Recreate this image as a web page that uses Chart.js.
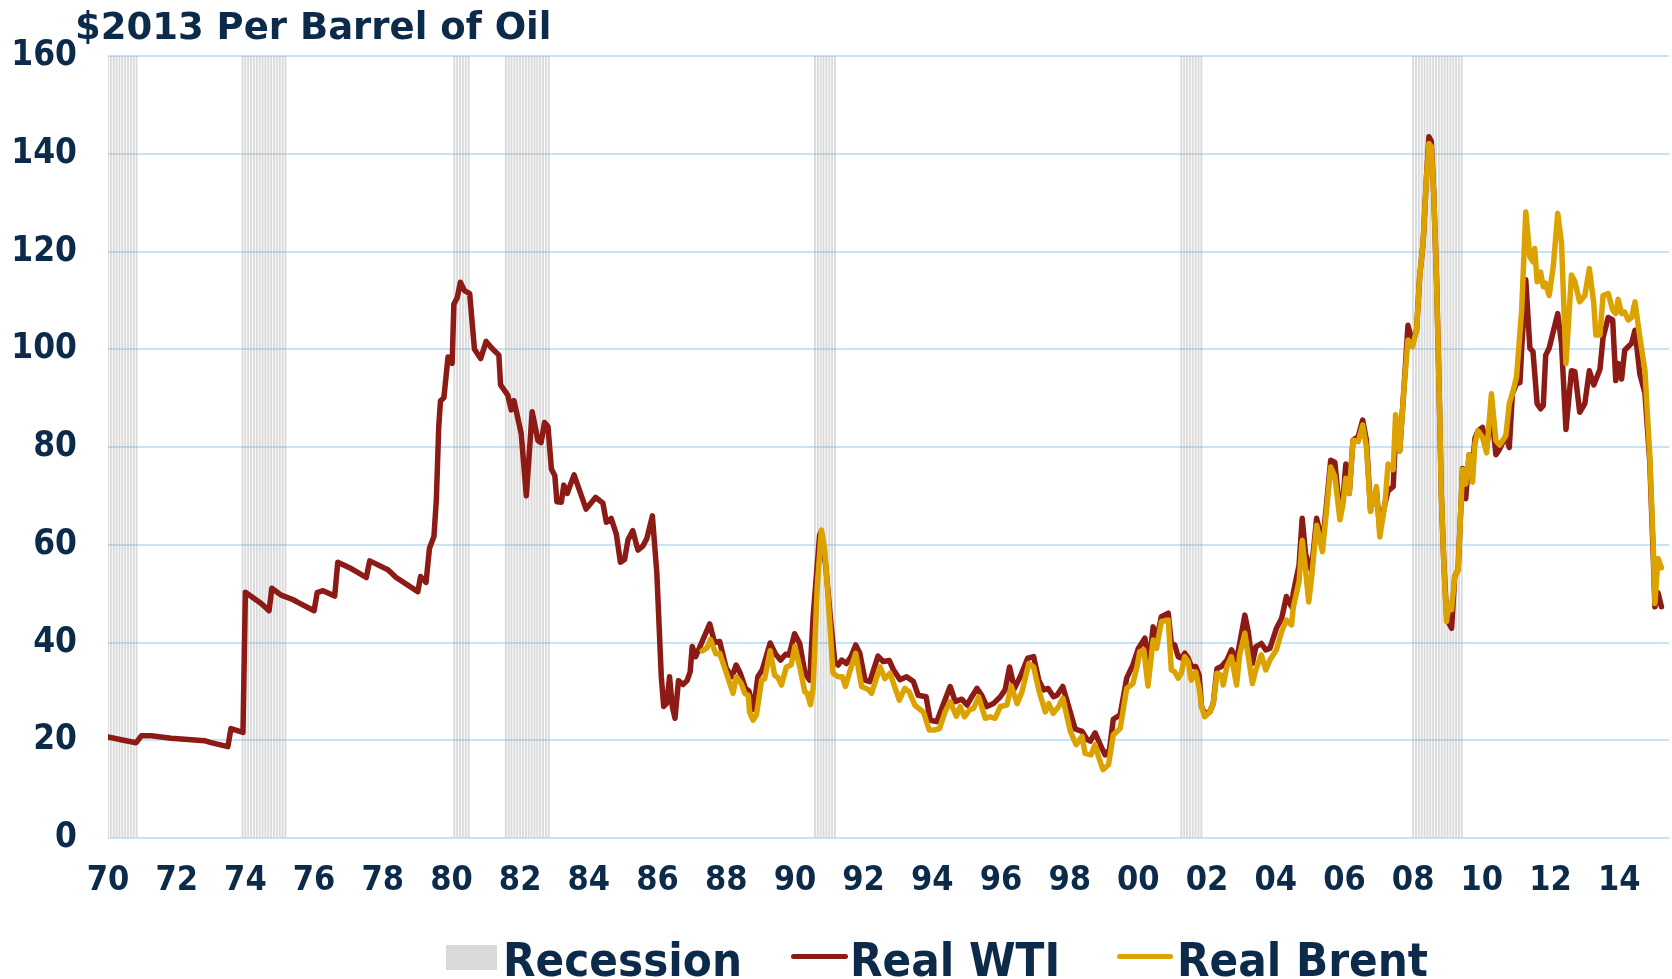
<!DOCTYPE html>
<html>
<head>
<meta charset="utf-8">
<script src="https://cdn.jsdelivr.net/npm/chart.js@4.4.1/dist/chart.umd.min.js"></script>
<style>
  html, body { margin: 0; padding: 0; background: #fff; }
  #wrap { position: relative; width: 1672px; height: 979px; overflow: hidden; }
  #title { position: absolute; left: 75px; top: 5px; line-height: 40px; white-space: nowrap;
           font: bold 37px "DejaVu Sans", sans-serif; color: #0c2a4a; }
  .legText { position: absolute; top: 932px; line-height: 50px; white-space: nowrap;
             font: bold 47px "DejaVu Sans Condensed", "DejaVu Sans", sans-serif; color: #0c2a4a; }
  .legLine { position: absolute; top: 954px; height: 5px; border-radius: 3px; }
  #legBox { position: absolute; left: 446px; top: 945px; width: 51px; height: 25px; background: #d9d9d9; }
</style>
</head>
<body>
<div id="wrap">
  <canvas id="oilChart" width="1672" height="979"></canvas>
  <div id="title">$2013 Per Barrel of Oil</div>
  <div id="legBox"></div>
  <div class="legText" style="left:503px">Recession</div>
  <div class="legLine" style="left:791px; width:57px; background:#8c1a15"></div>
  <div class="legText" style="left:850px">Real WTI</div>
  <div class="legLine" style="left:1117px; width:56px; background:#dca200"></div>
  <div class="legText" style="left:1177px">Real Brent</div>
</div>
<script>
// axis ticks
const yTicks = [0, 20, 40, 60, 80, 100, 120, 140, 160];
const xTickYears = [1970, 1972, 1974, 1976, 1978, 1980, 1982, 1984, 1986, 1988, 1990, 1992,
                    1994, 1996, 1998, 2000, 2002, 2004, 2006, 2008, 2010, 2012, 2014];
const xTickLabels = ['70', '72', '74', '76', '78', '80', '82', '84', '86', '88', '90', '92',
                     '94', '96', '98', '00', '02', '04', '06', '08', '10', '12', '14'];

// recession periods (first and last month)
const recessions = [['1970-01', '1970-11'], ['1973-12', '1975-03'], ['1980-02', '1980-07'],
                    ['1981-08', '1982-11'], ['1990-08', '1991-03'], ['2001-04', '2001-11'],
                    ['2008-01', '2009-06']];

// real WTI, $2013 per barrel (x = decimal year)
const wtiYears = [
  1970.00, 1970.38, 1970.82, 1970.97, 1971.26, 1971.84, 1972.81, 1973.00, 1973.49, 1973.58, 1973.93,
  1974.00, 1974.46, 1974.69, 1974.77, 1975.04, 1975.38, 1975.53, 1976.00, 1976.09, 1976.26, 1976.60,
  1976.69, 1977.03, 1977.28, 1977.52, 1977.62, 1978.15, 1978.39, 1979.02, 1979.10, 1979.26, 1979.36,
  1979.49, 1979.56, 1979.63, 1979.68, 1979.78, 1979.90, 1980.02, 1980.07, 1980.17, 1980.26, 1980.38,
  1980.53, 1980.67, 1980.85, 1981.01, 1981.19, 1981.38, 1981.43, 1981.64, 1981.74, 1981.82, 1982.03,
  1982.18, 1982.35, 1982.52, 1982.61, 1982.71, 1982.81, 1982.91, 1983.01, 1983.07, 1983.20, 1983.27,
  1983.37, 1983.57, 1983.92, 1984.20, 1984.41, 1984.51, 1984.65, 1984.80, 1984.92, 1985.04, 1985.14,
  1985.28, 1985.43, 1985.57, 1985.69, 1985.85, 1985.98, 1986.11, 1986.18, 1986.27, 1986.35, 1986.43,
  1986.51, 1986.61, 1986.74, 1986.86, 1986.95, 1987.01, 1987.11, 1987.27, 1987.52, 1987.66, 1987.81,
  1988.00, 1988.17, 1988.29, 1988.41, 1988.56, 1988.66, 1988.80, 1988.92, 1989.05, 1989.28, 1989.43,
  1989.58, 1989.73, 1989.83, 1989.99, 1990.14, 1990.29, 1990.43, 1990.53, 1990.72, 1990.77, 1990.90,
  1991.02, 1991.16, 1991.26, 1991.36, 1991.50, 1991.63, 1991.77, 1991.89, 1992.04, 1992.18, 1992.42,
  1992.57, 1992.75, 1992.87, 1993.06, 1993.25, 1993.45, 1993.59, 1993.82, 1993.94, 1994.13, 1994.33,
  1994.52, 1994.67, 1994.86, 1995.01, 1995.15, 1995.30, 1995.44, 1995.59, 1995.78, 1995.98, 1996.12,
  1996.25, 1996.39, 1996.56, 1996.78, 1996.95, 1997.10, 1997.24, 1997.37, 1997.53, 1997.63, 1997.80,
  1997.97, 1998.16, 1998.36, 1998.50, 1998.60, 1998.74, 1998.89, 1999.03, 1999.16, 1999.27, 1999.47,
  1999.66, 1999.84, 2000.00, 2000.19, 2000.31, 2000.43, 2000.53, 2000.67, 2000.87, 2000.96, 2001.06,
  2001.16, 2001.25, 2001.35, 2001.45, 2001.54, 2001.67, 2001.77, 2001.84, 2001.93, 2002.08, 2002.18,
  2002.29, 2002.42, 2002.58, 2002.71, 2002.86, 2002.95, 2003.10, 2003.20, 2003.32, 2003.42, 2003.58,
  2003.71, 2003.83, 2004.02, 2004.17, 2004.31, 2004.46, 2004.51, 2004.68, 2004.77, 2004.87, 2004.96,
  2005.04, 2005.19, 2005.36, 2005.48, 2005.60, 2005.72, 2005.87, 2005.96, 2006.04, 2006.14, 2006.25,
  2006.40, 2006.53, 2006.64, 2006.76, 2006.93, 2007.03, 2007.18, 2007.27, 2007.42, 2007.50, 2007.61,
  2007.73, 2007.85, 2007.98, 2008.10, 2008.19, 2008.29, 2008.39, 2008.46, 2008.53, 2008.60, 2008.68,
  2008.76, 2008.82, 2008.89, 2008.97, 2009.04, 2009.12, 2009.21, 2009.31, 2009.44, 2009.53, 2009.63,
  2009.73, 2009.80, 2009.89, 2010.02, 2010.14, 2010.28, 2010.41, 2010.52, 2010.70, 2010.80, 2010.89,
  2011.01, 2011.11, 2011.16, 2011.28, 2011.40, 2011.49, 2011.61, 2011.71, 2011.79, 2011.86, 2011.96,
  2012.08, 2012.21, 2012.32, 2012.45, 2012.61, 2012.71, 2012.85, 2013.00, 2013.13, 2013.26, 2013.44,
  2013.53, 2013.68, 2013.81, 2013.90, 2013.97, 2014.07, 2014.16, 2014.26, 2014.36, 2014.46, 2014.60,
  2014.75, 2014.89, 2014.99, 2015.04, 2015.13, 2015.23
];
const wtiValues = [
  20.7, 20.1, 19.5, 20.9, 20.9, 20.4, 19.9, 19.5, 18.7, 22.4, 21.6,
  50.3, 48.0, 46.5, 51.1, 49.7, 48.8, 48.2, 46.5, 50.2, 50.6, 49.5,
  56.4, 55.3, 54.3, 53.3, 56.7, 54.9, 53.3, 50.4, 53.5, 52.3, 59.3,
  61.7, 69.2, 84.2, 89.4, 90.1, 98.4, 97.1, 109.2, 110.6, 113.7, 112.0,
  111.4, 100.0, 98.1, 101.6, 100.1, 98.8, 92.7, 90.6, 87.6, 89.5, 82.8,
  70.0, 87.2, 81.3, 80.9, 85.0, 84.2, 75.5, 74.1, 68.8, 68.7, 72.2,
  70.5, 74.3, 67.3, 69.7, 68.5, 64.6, 65.4, 62.2, 56.4, 57.0, 61.0,
  62.9, 58.9, 59.7, 61.3, 65.9, 54.2, 33.0, 26.9, 27.6, 33.0, 26.9,
  24.5, 32.2, 31.4, 32.2, 34.0, 39.2, 37.1, 39.7, 43.8, 40.0, 40.2,
  34.7, 33.0, 35.4, 33.7, 30.6, 30.1, 26.3, 33.0, 34.4, 39.9, 37.7,
  36.4, 37.6, 37.4, 41.8, 39.8, 33.7, 32.3, 45.3, 62.0, 62.7, 55.5,
  46.0, 36.1, 35.4, 36.4, 35.7, 37.1, 39.5, 37.8, 32.3, 32.0, 37.2,
  36.1, 36.3, 34.4, 32.4, 33.0, 32.0, 29.2, 28.9, 24.1, 23.8, 27.5,
  31.0, 27.9, 28.4, 27.2, 28.9, 30.6, 29.2, 26.9, 27.5, 28.9, 30.3,
  35.0, 30.6, 33.0, 36.8, 37.1, 32.3, 30.3, 30.6, 28.9, 29.2, 31.0,
  26.9, 22.3, 21.8, 20.2, 19.8, 21.5, 19.1, 17.0, 18.1, 24.3, 25.2,
  32.7, 35.4, 38.8, 40.9, 35.5, 43.2, 40.5, 45.3, 46.0, 39.8, 39.5,
  37.1, 36.8, 37.8, 36.8, 35.1, 35.1, 33.3, 26.9, 25.5, 25.8, 27.5,
  34.7, 35.1, 36.4, 38.5, 36.4, 39.8, 45.6, 42.2, 35.7, 39.1, 39.8,
  38.5, 38.8, 42.9, 44.9, 49.4, 47.3, 50.1, 55.9, 65.4, 58.0, 56.2,
  54.8, 65.4, 60.3, 68.4, 77.3, 76.9, 66.4, 69.5, 76.5, 70.5, 81.4,
  82.1, 85.5, 81.4, 67.1, 71.2, 63.0, 68.4, 71.0, 71.9, 84.0, 79.2,
  91.7, 104.9, 101.2, 103.9, 114.8, 121.7, 135.3, 143.5, 142.5, 131.9, 114.8,
  90.9, 70.5, 56.9, 46.0, 44.0, 42.9, 53.5, 54.9, 75.6, 69.4, 78.4,
  76.0, 81.8, 83.3, 84.0, 79.9, 87.3, 78.4, 79.6, 82.3, 79.9, 90.9,
  92.9, 93.2, 100.0, 114.2, 100.2, 99.5, 88.9, 87.8, 88.5, 98.8, 100.2,
  103.6, 107.3, 101.2, 83.6, 95.6, 95.4, 87.1, 88.9, 95.6, 92.7, 95.9,
  102.4, 106.5, 106.0, 93.6, 97.1, 93.9, 99.8, 100.5, 101.2, 103.9, 95.0,
  91.0, 77.0, 58.0, 47.3, 50.2, 47.3
];

// real Brent, $2013 per barrel
const brentYears = [
  1987.30, 1987.44, 1987.54, 1987.70, 1987.81, 1987.96, 1988.20, 1988.29, 1988.44, 1988.54, 1988.64,
  1988.68, 1988.78, 1988.88, 1989.03, 1989.12, 1989.28, 1989.41, 1989.51, 1989.61, 1989.75, 1989.89,
  1990.00, 1990.14, 1990.29, 1990.36, 1990.45, 1990.53, 1990.65, 1990.77, 1990.87, 1990.99, 1991.11,
  1991.26, 1991.38, 1991.47, 1991.60, 1991.77, 1991.94, 1992.14, 1992.23, 1992.48, 1992.62, 1992.77,
  1993.04, 1993.20, 1993.33, 1993.49, 1993.64, 1993.74, 1993.91, 1994.08, 1994.21, 1994.37, 1994.52,
  1994.70, 1994.81, 1994.94, 1995.09, 1995.20, 1995.35, 1995.54, 1995.69, 1995.83, 1995.98, 1996.17,
  1996.30, 1996.47, 1996.61, 1996.81, 1996.95, 1997.10, 1997.29, 1997.39, 1997.52, 1997.68, 1997.80,
  1998.02, 1998.19, 1998.36, 1998.45, 1998.62, 1998.74, 1998.84, 1998.97, 1999.13, 1999.27, 1999.47,
  1999.66, 1999.84, 1999.96, 2000.04, 2000.16, 2000.28, 2000.43, 2000.53, 2000.67, 2000.87, 2000.96,
  2001.06, 2001.16, 2001.25, 2001.35, 2001.45, 2001.54, 2001.67, 2001.77, 2001.84, 2001.93, 2002.08,
  2002.18, 2002.29, 2002.42, 2002.47, 2002.58, 2002.71, 2002.86, 2002.95, 2003.10, 2003.32, 2003.42,
  2003.58, 2003.71, 2003.83, 2004.02, 2004.17, 2004.31, 2004.46, 2004.51, 2004.68, 2004.77, 2004.87,
  2004.96, 2005.04, 2005.19, 2005.36, 2005.48, 2005.60, 2005.72, 2005.87, 2005.96, 2006.04, 2006.14,
  2006.25, 2006.40, 2006.53, 2006.64, 2006.76, 2006.93, 2007.03, 2007.18, 2007.27, 2007.42, 2007.49,
  2007.61, 2007.73, 2007.85, 2007.98, 2008.10, 2008.19, 2008.29, 2008.39, 2008.46, 2008.53, 2008.60,
  2008.68, 2008.76, 2008.82, 2008.89, 2008.97, 2009.05, 2009.12, 2009.21, 2009.31, 2009.44, 2009.53,
  2009.63, 2009.73, 2009.80, 2009.89, 2010.02, 2010.14, 2010.28, 2010.41, 2010.52, 2010.70, 2010.80,
  2010.89, 2011.01, 2011.16, 2011.28, 2011.40, 2011.49, 2011.54, 2011.61, 2011.71, 2011.79, 2011.86,
  2011.96, 2012.08, 2012.21, 2012.32, 2012.45, 2012.61, 2012.71, 2012.85, 2013.00, 2013.13, 2013.26,
  2013.32, 2013.44, 2013.53, 2013.68, 2013.81, 2013.90, 2013.97, 2014.07, 2014.16, 2014.26, 2014.36,
  2014.46, 2014.60, 2014.75, 2014.89, 2014.99, 2015.04, 2015.13, 2015.23
];
const brentValues = [
  38.3, 38.9, 40.6, 37.7, 37.8, 34.7, 29.6, 33.0, 31.6, 29.6, 29.2,
  25.8, 24.1, 25.2, 32.3, 32.6, 38.3, 33.3, 32.8, 31.3, 35.0, 35.4,
  39.2, 35.0, 29.9, 29.6, 27.3, 30.6, 51.4, 63.0, 58.9, 46.7, 33.7,
  33.0, 33.0, 31.0, 34.1, 37.8, 31.0, 30.4, 29.6, 35.0, 32.6, 33.7,
  28.2, 30.6, 29.9, 27.2, 26.3, 25.8, 22.1, 22.1, 22.4, 25.8, 27.9,
  24.9, 26.9, 24.8, 26.3, 26.5, 28.9, 24.5, 24.8, 24.5, 26.9, 27.2,
  31.1, 27.5, 29.9, 35.7, 35.0, 30.3, 25.8, 27.5, 25.5, 26.9, 28.6,
  21.8, 19.1, 20.8, 17.3, 17.0, 19.1, 16.6, 14.0, 15.0, 21.1, 22.4,
  30.6, 31.6, 35.0, 38.1, 38.5, 31.1, 40.5, 38.8, 44.3, 44.6, 34.4,
  34.0, 32.7, 33.7, 37.1, 36.1, 32.3, 34.0, 30.6, 26.9, 24.8, 25.8,
  27.5, 33.7, 33.3, 31.3, 35.1, 37.1, 31.3, 37.5, 41.9, 31.6, 34.4,
  37.5, 34.4, 36.4, 38.5, 42.2, 44.6, 43.6, 47.2, 52.5, 60.9, 54.8,
  48.3, 53.0, 64.0, 58.6, 67.1, 75.9, 74.0, 65.1, 68.4, 73.6, 70.5,
  81.4, 81.1, 84.5, 80.0, 66.8, 71.9, 61.6, 68.4, 76.5, 75.4, 86.6,
  79.2, 91.7, 101.9, 100.5, 103.9, 114.8, 121.7, 135.3, 142.1, 141.5, 131.9,
  114.8, 90.9, 70.5, 56.9, 44.3, 48.0, 46.7, 53.5, 54.9, 75.4, 72.4,
  78.4, 72.8, 80.7, 83.3, 82.0, 78.8, 90.9, 81.3, 80.4, 82.3, 88.9,
  90.9, 94.3, 108.0, 128.1, 118.9, 117.9, 120.6, 113.8, 115.8, 112.8, 113.5,
  111.0, 116.9, 127.8, 121.7, 97.1, 115.2, 113.8, 109.7, 111.0, 116.5, 109.4,
  102.9, 102.9, 111.0, 111.4, 108.0, 107.3, 110.2, 107.3, 107.6, 106.0, 106.5,
  109.7, 102.5, 95.6, 78.4, 60.0, 48.0, 57.2, 55.3
];

const textColor = '#0c2a4a';
const fontFamily = '"DejaVu Sans Condensed", "DejaVu Sans", sans-serif';

function toPoints(xs, ys) {
  return xs.map((x, i) => ({ x: x, y: ys[i] }));
}

// one bar per recession month, full height of the axis
function recessionMonths() {
  const out = [];
  recessions.forEach(([start, end]) => {
    let [y, m] = start.split('-').map(Number);
    const [ey, em] = end.split('-').map(Number);
    while (y < ey || (y === ey && m <= em)) {
      out.push({ x: y + (m - 1) / 12, y: yTicks[yTicks.length - 1] });
      m++;
      if (m > 12) { m = 1; y++; }
    }
  });
  return out;
}

const ctx = document.getElementById('oilChart').getContext('2d');
new Chart(ctx, {
  type: 'line',
  data: {
    datasets: [
      {
        type: 'bar',
        label: 'Recession',
        data: recessionMonths(),
        backgroundColor: 'rgba(160, 160, 160, 0.38)',
        barThickness: 1.3,
        grouped: false,
        order: 3
      },
      {
        label: 'Real WTI',
        data: toPoints(wtiYears, wtiValues),
        borderColor: '#8c1a15',
        borderWidth: 5.5,
        pointRadius: 0,
        borderJoinStyle: 'round',
        borderCapStyle: 'round',
        order: 2
      },
      {
        label: 'Real Brent',
        data: toPoints(brentYears, brentValues),
        borderColor: '#dca200',
        borderWidth: 5.5,
        pointRadius: 0,
        borderJoinStyle: 'round',
        borderCapStyle: 'round',
        order: 1
      }
    ]
  },
  options: {
    responsive: false,
    animation: false,
    layout: { padding: { top: 56, right: 3, bottom: 0, left: 0 } },
    plugins: {
      legend: { display: false },
      tooltip: { enabled: false }
    },
    scales: {
      x: {
        type: 'linear',
        min: 1970,
        max: 2015.45,
        offset: false,
        grid: { display: false, drawTicks: false },
        border: { display: false },
        afterBuildTicks: (scale) => { scale.ticks = xTickYears.map(v => ({ value: v })); },
        afterFit: (scale) => { scale.height = 141; },
        ticks: {
          autoSkip: false,
          maxRotation: 0,
          padding: 23,
          color: textColor,
          font: { family: fontFamily, size: 34, weight: 'bold' },
          callback: (value, index) => xTickLabels[index]
        }
      },
      y: {
        min: 0,
        max: 160,
        afterBuildTicks: (scale) => { scale.ticks = yTicks.map(v => ({ value: v })); },
        afterFit: (scale) => { scale.width = 108; },
        grid: { color: '#c8e2f6', lineWidth: 2, drawTicks: false },
        border: { display: false },
        ticks: { padding: 31, color: textColor, font: { family: fontFamily, size: 35, weight: 'bold' } }
      }
    }
  }
});
</script>
</body>
</html>
